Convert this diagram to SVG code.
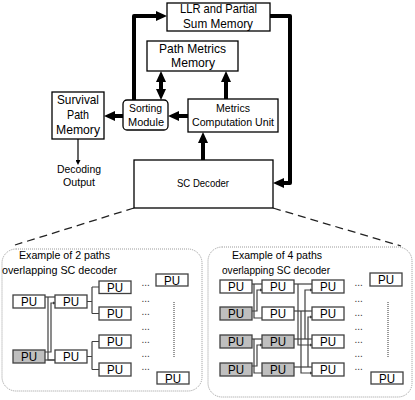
<svg xmlns="http://www.w3.org/2000/svg" width="415" height="400" viewBox="0 0 415 400">
<style>
  .box{fill:#fff;stroke:#000;stroke-width:1.3}
  .t{font-family:"Liberation Sans",Arial,sans-serif;fill:#000;text-anchor:middle}
  .big{font-size:13px}
  .mid{font-size:11.5px}
  .sm{font-size:11px}
  .put{font-size:12px}
  .pu{fill:#fff;stroke:#404040;stroke-width:1.3}
  .pug{fill:#bfbfbf;stroke:#404040;stroke-width:1.3}
  .thick{fill:none;stroke:#000;stroke-width:4;stroke-linejoin:round}
  .thin{fill:none;stroke:#000;stroke-width:1.2}
  .dash{fill:none;stroke:#222;stroke-width:1.3;stroke-dasharray:8,5}
  .panel{fill:#fff;stroke:#9a9a9a;stroke-width:1;stroke-dasharray:1,1}
  .wire{fill:none;stroke:#404040;stroke-width:1.2}
  .vdot{fill:none;stroke:#333;stroke-width:1;stroke-dasharray:1,1}
  .dots{font-family:"Liberation Sans",Arial,sans-serif;font-size:10px;fill:#333}
</style>
<defs>
  <marker id="ah" markerUnits="userSpaceOnUse" markerWidth="11" markerHeight="10" refX="2" refY="5" orient="auto-start-reverse" viewBox="0 0 11 10">
    <path d="M0,0 L11,5 L0,10 z" fill="#000"/>
  </marker>
  <marker id="ahs" markerUnits="userSpaceOnUse" markerWidth="5" markerHeight="5" refX="1" refY="2.5" orient="auto" viewBox="0 0 5 5">
    <path d="M0,0 L5,2.5 L0,5 z" fill="#000"/>
  </marker>
  <marker id="aht" markerUnits="userSpaceOnUse" markerWidth="3.5" markerHeight="3.5" refX="1" refY="1.75" orient="auto" viewBox="0 0 3.5 3.5">
    <path d="M0,0 L3.5,1.75 L0,3.5 z" fill="#404040"/>
  </marker>
</defs>

<g id="panel-left">
  <rect class="panel" x="2" y="249" width="200" height="142" rx="14"/>
  <text class="t sm" x="64.5" y="259" textLength="91" lengthAdjust="spacingAndGlyphs">Example of 2 paths</text>
  <text class="t sm" x="59.5" y="274" textLength="115" lengthAdjust="spacingAndGlyphs">overlapping SC decoder</text>
</g>
<g id="panel-right">
  <rect class="panel" x="208" y="247" width="204" height="150" rx="14"/>
  <text class="t sm" x="277" y="259" textLength="90" lengthAdjust="spacingAndGlyphs">Example of 4 paths</text>
  <text class="t sm" x="276" y="274" textLength="108" lengthAdjust="spacingAndGlyphs">overlapping SC decoder</text>
</g>

<g id="connectors">
  <path class="thick" d="M134,100 V16 H158" marker-end="url(#ah)"/>
  <path class="thick" d="M270,16 H290 V183 H282" marker-end="url(#ah)"/>
  <path class="thick" d="M161,80 V91" marker-start="url(#ah)" marker-end="url(#ah)"/>
  <path class="thick" d="M226,99 V80" marker-end="url(#ah)"/>
  <path class="thick" d="M188,116 H177" marker-end="url(#ah)"/>
  <path class="thick" d="M123,116 H113" marker-end="url(#ah)"/>
  <path class="thick" d="M203,160 V141" marker-end="url(#ah)"/>
  <path class="thin" d="M78,139 V161" marker-end="url(#ahs)"/>
  <path class="dash" d="M134,208 L15,245"/>
  <path class="dash" d="M273,208 L401,246"/>
</g>

<g id="pu-wires">
  <path class="wire" d="M45,297 H55"/>
  <path class="wire" d="M48,297 V360 H55"/>
  <path class="wire" d="M45,360 H55"/>
  <path class="wire" d="M45,352 H51 V303 H53.5" marker-end="url(#aht)"/>
  <path class="wire" d="M87,301.5 H92 M92,287 V313.5 M92,287 H99 M92,313.5 H99"/>
  <path class="wire" d="M87,356.5 H92 M92,341.5 V369.5 M92,341.5 H99 M92,369.5 H99"/>
  <path class="wire" d="M252,284 H262"/>
  <path class="wire" d="M254,284 V318 H262"/>
  <path class="wire" d="M252,311 H257 V290 H260.5" marker-end="url(#aht)"/>
  <path class="wire" d="M252,339 H262"/>
  <path class="wire" d="M254,339 V373 H262"/>
  <path class="wire" d="M252,366 H257 V345 H260.5" marker-end="url(#aht)"/>
  <path class="wire" d="M294,284 H312"/>
  <path class="wire" d="M298,284 V345 H310.5" marker-end="url(#aht)"/>
  <path class="wire" d="M294,311 H312"/>
  <path class="wire" d="M301,311 V373 H310.5" marker-end="url(#aht)"/>
  <path class="wire" d="M294,339 H312"/>
  <path class="wire" d="M305,339 V290 H310.5" marker-end="url(#aht)"/>
  <path class="wire" d="M294,367 H312"/>
  <path class="wire" d="M308,367 V317 H310.5" marker-end="url(#aht)"/>
</g>

<g id="llr-memory">
  <rect class="box" x="167" y="3" width="103" height="28"/>
  <text class="t big" x="218.5" y="13" textLength="77" lengthAdjust="spacingAndGlyphs">LLR and Partial</text>
  <text class="t big" x="218" y="28" textLength="70" lengthAdjust="spacingAndGlyphs">Sum Memory</text>
</g>
<g id="path-metrics-memory">
  <rect class="box" x="147" y="41" width="91" height="30"/>
  <text class="t big" x="192.5" y="53" textLength="67" lengthAdjust="spacingAndGlyphs">Path Metrics</text>
  <text class="t big" x="193" y="67" textLength="44" lengthAdjust="spacingAndGlyphs">Memory</text>
</g>
<g id="survival-path-memory">
  <rect class="box" x="52" y="92" width="52" height="47"/>
  <text class="t big" x="78" y="104" textLength="42" lengthAdjust="spacingAndGlyphs">Survival</text>
  <text class="t big" x="78" y="119" textLength="22" lengthAdjust="spacingAndGlyphs">Path</text>
  <text class="t big" x="78" y="134" textLength="44" lengthAdjust="spacingAndGlyphs">Memory</text>
</g>
<g id="sorting-module">
  <rect class="box" x="123" y="100" width="45" height="30" rx="4"/>
  <text class="t mid" x="145.5" y="112" textLength="33" lengthAdjust="spacingAndGlyphs">Sorting</text>
  <text class="t mid" x="146" y="126" textLength="36" lengthAdjust="spacingAndGlyphs">Module</text>
</g>
<g id="metrics-computation-unit">
  <rect class="box" x="188" y="99" width="90" height="33"/>
  <text class="t mid" x="233" y="112" textLength="34" lengthAdjust="spacingAndGlyphs">Metrics</text>
  <text class="t mid" x="233" y="126" textLength="82" lengthAdjust="spacingAndGlyphs">Computation Unit</text>
</g>
<g id="decoding-output">
  <text class="t mid" x="79" y="173" textLength="44" lengthAdjust="spacingAndGlyphs">Decoding</text>
  <text class="t mid" x="79" y="186" textLength="32" lengthAdjust="spacingAndGlyphs">Output</text>
</g>
<g id="sc-decoder">
  <rect class="box" x="134" y="160" width="139" height="48"/>
  <text class="t sm" x="203" y="187" textLength="52" lengthAdjust="spacingAndGlyphs">SC Decoder</text>
</g>

<g id="pu-left">
  <rect class="pu" x="13" y="295" width="32" height="13"/>
  <rect class="pug" x="13" y="350" width="32" height="13"/>
  <rect class="pu" x="55" y="295" width="32" height="13"/>
  <rect class="pu" x="55" y="350" width="32" height="13"/>
  <rect class="pu" x="99" y="281" width="32" height="12.5"/>
  <rect class="pu" x="99" y="307" width="32" height="13"/>
  <rect class="pu" x="99" y="335" width="32" height="13"/>
  <rect class="pu" x="99" y="363" width="32" height="13"/>
  <rect class="pu" x="156" y="274" width="32" height="12"/>
  <rect class="pu" x="157" y="372" width="32" height="12"/>
  <g class="t put">
    <text x="29" y="306" textLength="16" lengthAdjust="spacingAndGlyphs">PU</text>
    <text x="29" y="361" textLength="16" lengthAdjust="spacingAndGlyphs">PU</text>
    <text x="71" y="306" textLength="16" lengthAdjust="spacingAndGlyphs">PU</text>
    <text x="71" y="361" textLength="16" lengthAdjust="spacingAndGlyphs">PU</text>
    <text x="115" y="291.5" textLength="16" lengthAdjust="spacingAndGlyphs">PU</text>
    <text x="115" y="318" textLength="16" lengthAdjust="spacingAndGlyphs">PU</text>
    <text x="115" y="346" textLength="16" lengthAdjust="spacingAndGlyphs">PU</text>
    <text x="115" y="374" textLength="16" lengthAdjust="spacingAndGlyphs">PU</text>
    <text x="172" y="284.5" textLength="16" lengthAdjust="spacingAndGlyphs">PU</text>
    <text x="173" y="382.5" textLength="16" lengthAdjust="spacingAndGlyphs">PU</text>
  </g>
  <g class="dots">
    <text x="141.5" y="286">...</text>
    <text x="141.5" y="302">...</text>
    <text x="141.5" y="315">...</text>
    <text x="141.5" y="330">...</text>
    <text x="141.5" y="343">...</text>
    <text x="141.5" y="357">...</text>
    <text x="141.5" y="370">...</text>
  </g>
  <path class="vdot" d="M174,302 V357"/>
</g>

<g id="pu-right">
  <rect class="pu" x="220" y="280" width="32" height="13"/>
  <rect class="pug" x="220" y="307" width="32" height="13"/>
  <rect class="pug" x="220" y="335" width="32" height="13"/>
  <rect class="pug" x="220" y="363" width="32" height="13"/>
  <rect class="pu" x="262" y="280" width="32" height="13"/>
  <rect class="pu" x="262" y="307" width="32" height="13"/>
  <rect class="pug" x="262" y="335" width="32" height="13"/>
  <rect class="pug" x="262" y="363" width="32" height="13"/>
  <rect class="pu" x="312" y="280" width="32" height="13"/>
  <rect class="pu" x="312" y="307" width="32" height="13"/>
  <rect class="pu" x="312" y="335" width="32" height="13"/>
  <rect class="pu" x="312" y="363" width="32" height="13"/>
  <rect class="pu" x="370" y="273" width="32" height="13"/>
  <rect class="pu" x="371" y="372" width="32" height="12"/>
  <g class="t put">
    <text x="236" y="291" textLength="16" lengthAdjust="spacingAndGlyphs">PU</text>
    <text x="236" y="318" textLength="16" lengthAdjust="spacingAndGlyphs">PU</text>
    <text x="236" y="346" textLength="16" lengthAdjust="spacingAndGlyphs">PU</text>
    <text x="236" y="374" textLength="16" lengthAdjust="spacingAndGlyphs">PU</text>
    <text x="278" y="291" textLength="16" lengthAdjust="spacingAndGlyphs">PU</text>
    <text x="278" y="318" textLength="16" lengthAdjust="spacingAndGlyphs">PU</text>
    <text x="278" y="346" textLength="16" lengthAdjust="spacingAndGlyphs">PU</text>
    <text x="278" y="374" textLength="16" lengthAdjust="spacingAndGlyphs">PU</text>
    <text x="328" y="291" textLength="16" lengthAdjust="spacingAndGlyphs">PU</text>
    <text x="328" y="318" textLength="16" lengthAdjust="spacingAndGlyphs">PU</text>
    <text x="328" y="346" textLength="16" lengthAdjust="spacingAndGlyphs">PU</text>
    <text x="328" y="374" textLength="16" lengthAdjust="spacingAndGlyphs">PU</text>
    <text x="386" y="284" textLength="16" lengthAdjust="spacingAndGlyphs">PU</text>
    <text x="387" y="382.5" textLength="16" lengthAdjust="spacingAndGlyphs">PU</text>
  </g>
  <g class="dots">
    <text x="354.5" y="286">...</text>
    <text x="354.5" y="302">...</text>
    <text x="354.5" y="316">...</text>
    <text x="354.5" y="330">...</text>
    <text x="354.5" y="343">...</text>
    <text x="354.5" y="357">...</text>
    <text x="354.5" y="370">...</text>
  </g>
  <path class="vdot" d="M388,302 V357"/>
</g>
</svg>
